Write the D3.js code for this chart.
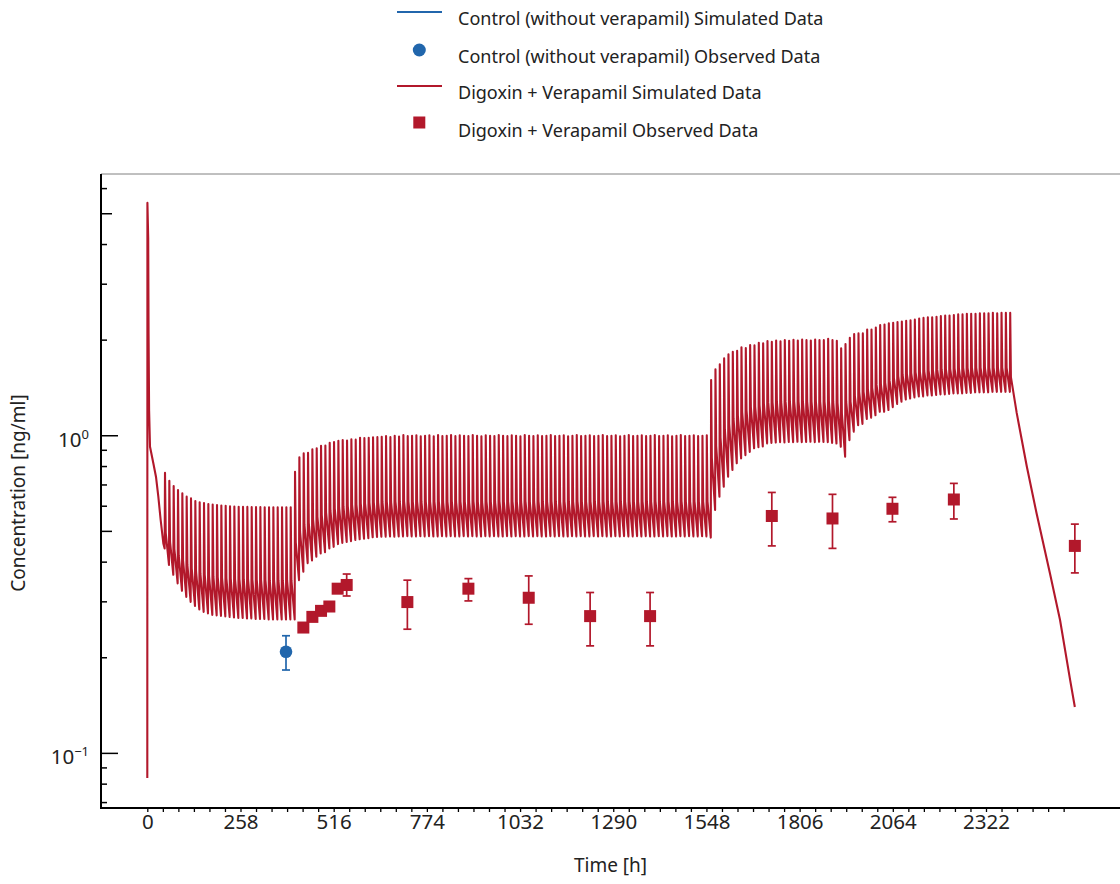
<!DOCTYPE html>
<html><head><meta charset="utf-8">
<script src="https://cdn.jsdelivr.net/npm/d3@7"></script>
<style>
html,body{margin:0;padding:0;background:#fff;}
svg{display:block;font-family:"Noto Sans",sans-serif;}
</style></head><body>
<svg id="chart" width="1120" height="884"></svg>
<script>
// ---------- DATA ----------
const seriesNames = ["Control (without verapamil) Simulated Data","Control (without verapamil) Observed Data","Digoxin + Verapamil Simulated Data","Digoxin + Verapamil Observed Data"];

// initial loading phase of the simulated curve
const initTimes = [0, 0.3, 2.5, 3.5, 5, 7.5, 16.7, 24, 30.5, 37, 44.4];
const initConc  = [0.0836, 5.41, 4.2, 2.1, 1.2, 0.923, 0.819, 0.743, 0.643, 0.543, 0.458];

// dose times [h]
const doseTimes = [
48,60,72,84,96,108,120,132,144,156,
168,180,192,204,216,228,240,252,264,276,
288,300,312,324,336,348,360,372,384,396,
408,420,432,444,456,468,480,492,504,516,
528,540,552,564,576,588,600,612,624,636,
648,660,672,684,696,708,720,732,744,756,
768,780,792,804,816,828,840,852,864,876,
888,900,912,924,936,948,960,972,984,996,
1008,1020,1032,1044,1056,1068,1080,1092,1104,1116,
1128,1140,1152,1164,1176,1188,1200,1212,1224,1236,
1248,1260,1272,1284,1296,1308,1320,1332,1344,1356,
1368,1380,1392,1404,1416,1428,1440,1452,1464,1476,
1488,1500,1512,1524,1536,1548,1560,1572,1584,1596,
1608,1620,1632,1644,1656,1668,1680,1692,1704,1716,
1728,1740,1752,1764,1776,1788,1800,1812,1824,1836,
1848,1860,1872,1884,1896,1908,1920,1932,1944,1956,
1968,1980,1992,2004,2016,2028,2040,2052,2064,2076,
2088,2100,2112,2124,2136,2148,2160,2172,2184,2196,
2208,2220,2232,2244,2256,2268,2280,2292,2304,2316,
2328,2340,2352,2364,2376,2388];

// simulated concentration just before each dose (trough)
const troughConc = [
0.442,0.392,0.365,0.343,0.325,0.311,0.300,0.291,0.284,0.279,
0.276,0.273,0.272,0.271,0.270,0.269,0.268,0.267,0.267,0.266,
0.266,0.265,0.265,0.265,0.264,0.264,0.264,0.264,0.264,0.264,
0.264,0.351,0.373,0.397,0.405,0.416,0.426,0.430,0.442,0.447,
0.456,0.460,0.463,0.466,0.470,0.472,0.474,0.476,0.479,0.480,
0.481,0.481,0.482,0.481,0.482,0.482,0.483,0.482,0.482,0.483,
0.482,0.483,0.482,0.482,0.483,0.482,0.483,0.482,0.482,0.483,
0.482,0.483,0.482,0.482,0.483,0.482,0.483,0.482,0.482,0.483,
0.482,0.483,0.482,0.482,0.483,0.482,0.483,0.482,0.482,0.483,
0.482,0.483,0.482,0.482,0.483,0.482,0.483,0.482,0.482,0.483,
0.482,0.483,0.482,0.482,0.483,0.482,0.483,0.482,0.482,0.483,
0.482,0.483,0.482,0.482,0.483,0.482,0.483,0.482,0.482,0.483,
0.482,0.483,0.482,0.482,0.483,0.482,0.478,0.584,0.643,0.691,
0.743,0.780,0.819,0.849,0.869,0.890,0.913,0.920,0.925,0.946,
0.950,0.952,0.955,0.953,0.956,0.955,0.957,0.955,0.956,0.957,
0.955,0.957,0.956,0.955,0.950,0.945,0.923,0.859,0.969,1.030,
1.080,1.090,1.130,1.140,1.160,1.190,1.190,1.205,1.230,1.260,
1.280,1.300,1.310,1.320,1.330,1.330,1.340,1.340,1.345,1.350,
1.350,1.355,1.360,1.360,1.360,1.365,1.365,1.370,1.370,1.370,
1.370,1.375,1.375,1.375,1.375,1.375];

// simulated peak after each dose
const peakConc = [
0.765,0.722,0.695,0.675,0.659,0.643,0.635,0.623,0.617,0.614,
0.610,0.607,0.605,0.603,0.602,0.600,0.599,0.598,0.597,0.597,
0.596,0.596,0.596,0.595,0.595,0.595,0.595,0.595,0.595,0.595,
0.770,0.855,0.880,0.883,0.906,0.913,0.930,0.931,0.950,0.955,
0.964,0.969,0.966,0.974,0.972,0.986,0.983,0.986,0.988,0.990,
0.992,0.997,0.990,1.000,0.995,1.005,0.997,1.000,1.004,0.996,
1.000,1.004,0.996,1.006,0.998,1.000,1.005,0.997,1.003,1.000,
0.998,1.005,1.000,0.996,1.004,1.000,0.998,1.006,1.000,0.997,
1.003,1.000,0.996,1.005,1.000,0.998,1.004,0.997,1.000,1.005,
0.998,1.000,1.004,0.996,1.000,1.005,0.998,1.000,1.003,0.997,
1.000,1.005,0.998,1.000,1.004,0.996,1.000,1.005,0.998,1.000,
1.003,0.997,1.000,1.005,0.998,1.000,1.004,0.996,1.000,1.005,
0.998,1.000,1.004,0.997,1.000,1.003,1.498,1.619,1.678,1.752,
1.805,1.839,1.852,1.898,1.890,1.930,1.925,1.963,1.955,1.987,
1.975,1.995,1.985,2.000,1.990,2.005,1.995,2.010,2.000,1.995,
2.010,2.000,2.000,2.020,2.000,1.990,1.885,1.945,2.035,2.090,
2.100,2.100,2.160,2.160,2.190,2.230,2.240,2.260,2.270,2.280,
2.290,2.300,2.310,2.320,2.340,2.350,2.360,2.360,2.370,2.380,
2.390,2.390,2.400,2.410,2.410,2.420,2.420,2.420,2.430,2.430,
2.430,2.440,2.430,2.440,2.440,2.440];

// simulated level at the end of the fast distribution phase after each dose
const midConc = [
0.495,0.463,0.440,0.420,0.405,0.392,0.382,0.374,0.368,0.365,
0.362,0.360,0.359,0.357,0.356,0.355,0.354,0.354,0.353,0.353,
0.352,0.352,0.352,0.352,0.351,0.351,0.351,0.351,0.351,0.351,
0.462,0.499,0.525,0.532,0.546,0.556,0.563,0.574,0.582,0.590,
0.596,0.600,0.601,0.607,0.607,0.612,0.613,0.616,0.617,0.619,
0.619,0.621,0.619,0.622,0.620,0.623,0.621,0.621,0.623,0.620,
0.621,0.622,0.620,0.623,0.620,0.621,0.623,0.620,0.622,0.621,
0.620,0.623,0.621,0.620,0.622,0.621,0.620,0.623,0.621,0.620,
0.622,0.621,0.620,0.623,0.621,0.620,0.622,0.620,0.621,0.623,
0.620,0.621,0.622,0.620,0.621,0.623,0.620,0.621,0.622,0.620,
0.621,0.623,0.620,0.621,0.622,0.620,0.621,0.623,0.620,0.621,
0.622,0.620,0.621,0.623,0.620,0.621,0.622,0.620,0.621,0.623,
0.620,0.621,0.622,0.620,0.621,0.622,0.851,0.930,0.985,1.047,
1.091,1.132,1.160,1.188,1.203,1.232,1.236,1.250,1.265,1.276,
1.275,1.280,1.280,1.283,1.280,1.284,1.281,1.285,1.282,1.281,
1.284,1.282,1.282,1.286,1.280,1.270,1.177,1.280,1.281,1.334,
1.375,1.378,1.399,1.416,1.446,1.455,1.470,1.494,1.520,1.540,
1.560,1.565,1.575,1.585,1.590,1.600,1.605,1.610,1.615,1.620,
1.620,1.625,1.630,1.630,1.635,1.635,1.640,1.640,1.640,1.640,
1.640,1.640,1.640,1.640,1.640,1.530];

// washout after last dose
const declineTimes = [2407, 2435, 2462, 2499, 2527, 2555, 2568];
const declineConc  = [1.18, 0.80, 0.57, 0.369, 0.263, 0.170, 0.140];

// observed data
const ctrlObsTime = [384];
const ctrlObsConc = [0.209];
const ctrlObsLow  = [0.183];
const ctrlObsHigh = [0.2346];

const veraObsTime = [432, 457, 481, 504, 527, 552, 720, 889, 1056, 1226, 1392, 1729, 1897, 2063, 2233, 2568];
const veraObsConc = [0.249, 0.269, 0.281, 0.290, 0.330, 0.339, 0.2995, 0.330, 0.309, 0.2705, 0.2705, 0.559, 0.549, 0.589, 0.630, 0.450];
const veraObsLow  = [null, null, null, null, null, 0.313, 0.246, 0.302, 0.255, 0.218, 0.218, 0.450, 0.442, 0.536, 0.547, 0.370];
const veraObsHigh = [null, null, null, null, null, 0.367, 0.351, 0.355, 0.362, 0.321, 0.321, 0.663, 0.654, 0.640, 0.708, 0.527];

// axes
const xLabelTicks = [0, 258, 516, 774, 1032, 1290, 1548, 1806, 2064, 2322];
const xMinorStep = 43, xMinorMax = 2537;
const yTickValues = [0.07,0.08,0.09,0.1,0.2,0.3,0.4,0.5,0.6,0.7,0.8,0.9,1,2,3,4,5,6];
const yMajorTicks = [0.1, 1];
const yMajorExp = ["\u22121", "0"];
const yMidTicks = [0.5, 5];

// ---------- CHART ----------
const BLUE = "#2166ac", RED = "#b2182b", TXT = "#222";
const svg = d3.select("#chart");
const L = 101, R = 1120, T = 174, B = 808;
const x = d3.scaleLinear().domain([-128.2, 2693]).range([L, R]);
const y = d3.scaleLog().domain([0.0673, 6.67]).range([B, T]);

svg.append("defs").append("clipPath").attr("id","clip")
  .append("rect").attr("x",L).attr("y",T).attr("width",R-L).attr("height",B-T);

// simulated line
const simPts = [];
initTimes.forEach((t,k)=>simPts.push([t, initConc[k]]));
doseTimes.forEach((t,i)=>{
  simPts.push([t, troughConc[i]]);
  simPts.push([t+1, peakConc[i]]);
  simPts.push([t+3, midConc[i]]);
});
declineTimes.forEach((t,k)=>simPts.push([t, declineConc[k]]));

const line = d3.line().x(d=>x(d[0])).y(d=>y(d[1]));
svg.append("path").datum(simPts)
  .attr("clip-path","url(#clip)")
  .attr("d", line).attr("fill","none").attr("stroke",RED)
  .attr("stroke-width",2.1).attr("stroke-linejoin","round");

// error bars helper
function errBars(times, low, high, color){
  const g = svg.append("g").attr("stroke",color).attr("stroke-width",1.7);
  times.forEach((t,i)=>{
    if(low[i]==null) return;
    const cx = x(t);
    g.append("line").attr("x1",cx).attr("x2",cx).attr("y1",y(low[i])).attr("y2",y(high[i]));
    g.append("line").attr("x1",cx-4).attr("x2",cx+4).attr("y1",y(low[i])).attr("y2",y(low[i]));
    g.append("line").attr("x1",cx-4).attr("x2",cx+4).attr("y1",y(high[i])).attr("y2",y(high[i]));
  });
}
errBars(veraObsTime, veraObsLow, veraObsHigh, RED);
errBars(ctrlObsTime, ctrlObsLow, ctrlObsHigh, BLUE);

svg.append("g").selectAll("rect").data(veraObsTime).join("rect")
  .attr("x",(d)=>x(d)-6).attr("y",(d,i)=>y(veraObsConc[i])-6)
  .attr("width",12).attr("height",12).attr("fill",RED);
svg.append("g").selectAll("circle").data(ctrlObsTime).join("circle")
  .attr("cx",d=>x(d)).attr("cy",(d,i)=>y(ctrlObsConc[i])).attr("r",6.3).attr("fill",BLUE);

// frame
svg.append("line").attr("x1",L).attr("x2",R).attr("y1",T).attr("y2",T).attr("stroke","#808080").attr("stroke-width",1);

// x axis
const xMinor = d3.range(0, xMinorMax+1, xMinorStep);
const xAxis = d3.axisBottom(x).tickValues(xMinor).tickSize(4).tickPadding(2)
  .tickFormat(d => xLabelTicks.includes(d) ? String(d) : "");
const gx = svg.append("g").attr("transform",`translate(0,${B})`).call(xAxis);
gx.select(".domain").remove();
gx.selectAll(".tick line").attr("stroke","#000").attr("stroke-width",1.3);
gx.selectAll(".tick text").attr("font-size",20.5).attr("fill",TXT).attr("font-family","Noto Sans");
svg.append("line").attr("x1",L-1).attr("x2",R).attr("y1",B).attr("y2",B).attr("stroke","#000").attr("stroke-width",2);

// y axis
svg.append("line").attr("x1",L).attr("x2",L).attr("y1",T).attr("y2",B+1).attr("stroke","#000").attr("stroke-width",2);
const gy = svg.append("g");
yTickValues.forEach(v=>{
  const len = yMajorTicks.includes(v) ? 17 : (yMidTicks.includes(v) ? 11 : 6);
  gy.append("line").attr("x1",L).attr("x2",L+len).attr("y1",y(v)).attr("y2",y(v))
    .attr("stroke","#000").attr("stroke-width",1.5);
});
yMajorTicks.forEach((v,k)=>{
  const t = gy.append("text").attr("x",89).attr("y",y(v)+11).attr("text-anchor","end")
    .attr("font-size",20.5).attr("fill",TXT);
  t.append("tspan").text("10");
  t.append("tspan").attr("font-size",13).attr("dy",-8).text(yMajorExp[k]);
});

// axis titles
svg.append("text").attr("x",(L+R)/2).attr("y",872).attr("text-anchor","middle")
  .attr("font-size",19).attr("fill",TXT).text("Time [h]");
svg.append("text").attr("transform","translate(25,493) rotate(-90)").attr("text-anchor","middle")
  .attr("font-size",19).attr("fill",TXT).text("Concentration [ng/ml]");

// legend
const lg = svg.append("g");
const rows = [25, 62.5, 99.3, 136.5];
lg.append("line").attr("x1",397).attr("x2",442).attr("y1",12).attr("y2",12).attr("stroke",BLUE).attr("stroke-width",2);
lg.append("circle").attr("cx",419.3).attr("cy",50).attr("r",6.5).attr("fill",BLUE);
lg.append("line").attr("x1",397).attr("x2",442).attr("y1",86).attr("y2",86).attr("stroke",RED).attr("stroke-width",2);
lg.append("rect").attr("x",413.3).attr("y",116.5).attr("width",12).attr("height",12).attr("fill",RED);
seriesNames.forEach((s,i)=>{
  lg.append("text").attr("x",458).attr("y",rows[i]).attr("font-size",18).attr("fill",TXT).text(s);
});
</script>
</body></html>
